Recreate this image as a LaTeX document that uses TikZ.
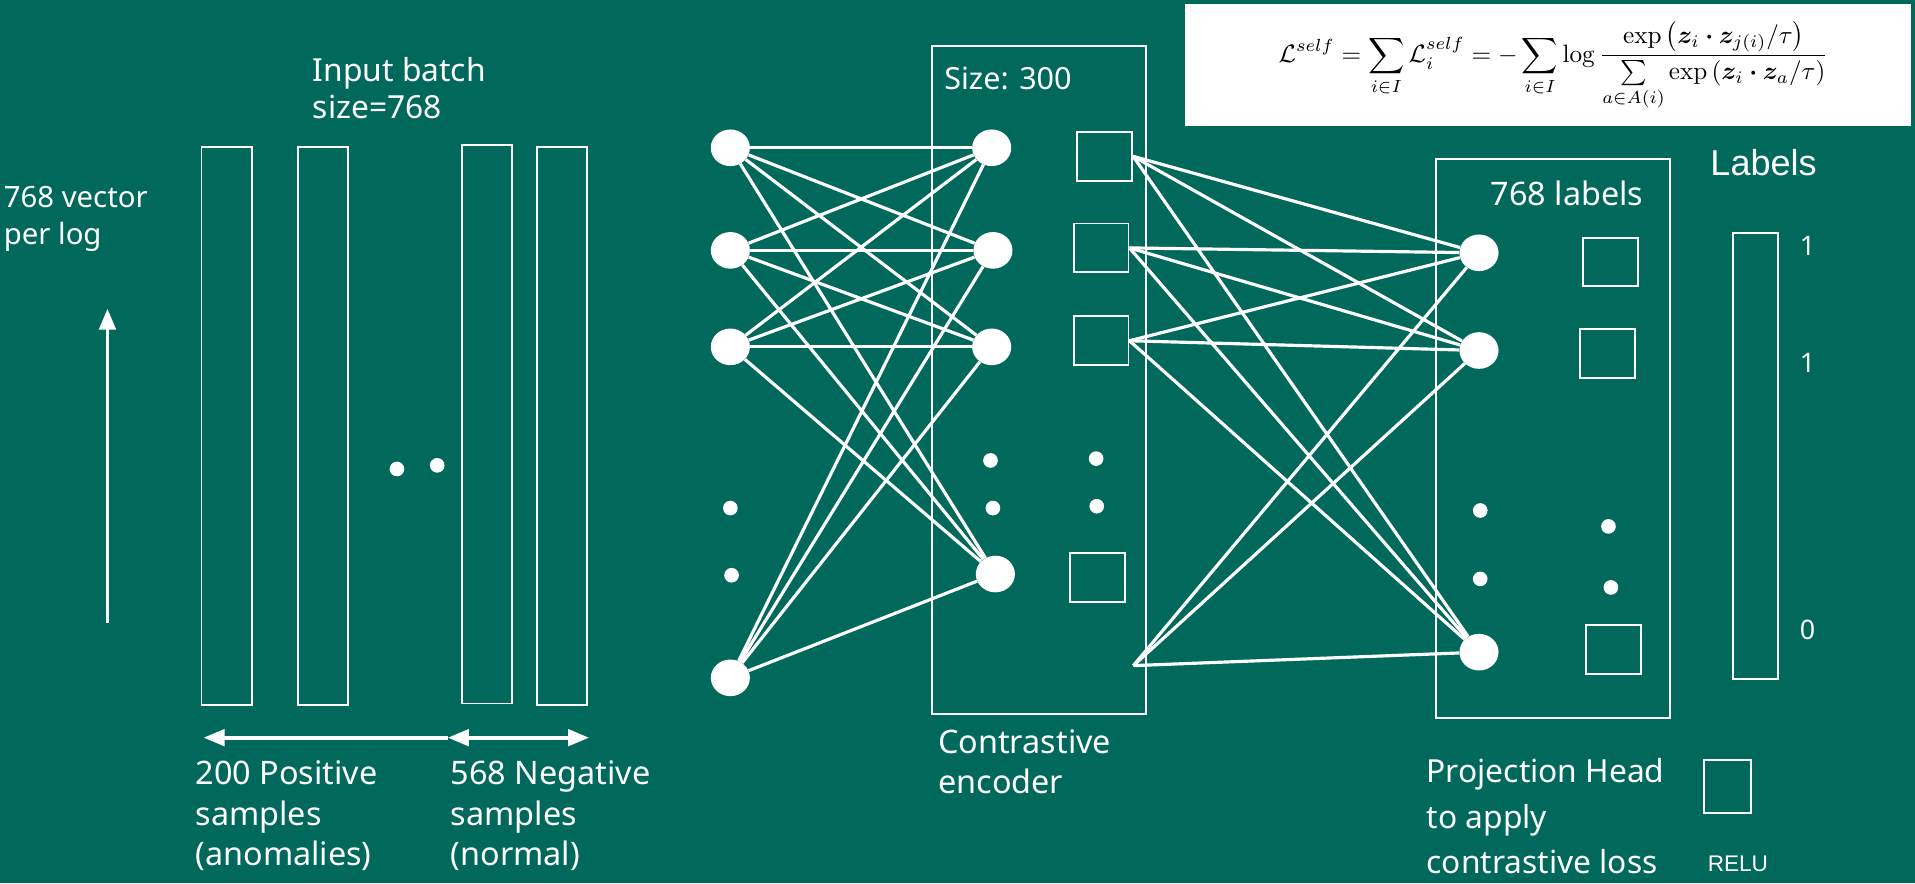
\documentclass[tikz,border=0pt]{standalone}
\usepackage{amsmath}
\usepackage{bm}
\usepackage[no-math]{fontspec}
\setmainfont{Noto Sans}
\newfontfamily\arialfont{Liberation Sans}
\usetikzlibrary{arrows, shapes.geometric, positioning}
\tikzset{>=triangle 45}
\definecolor{slidegreen}{RGB}{1,105,91}
\tikzset{
  unit/.style={ellipse, fill=white, minimum width=32, minimum height=30, inner sep=0},
  cell/.style={draw=white, line width=1.6pt, minimum width=45, minimum height=40, inner sep=0},
  column/.style={draw=white, line width=1.6pt, minimum width=41, minimum height=457, inner sep=0},
  link/.style={line width=2.6pt},
  lbl/.style={font=\fontsize{26.5}{33}\selectfont, align=left, anchor=north west, inner sep=0},
}

\begin{document}
\begin{tikzpicture}[x=1pt, y=-1pt, white]
		\fill[slidegreen] (0,0) rectangle (1568,723);
		\useasboundingbox (0,0) rectangle (1568,723);

		% loss formula
		\node (lossbox) [fill=white, minimum width=595, minimum height=100, inner sep=0] at (1267.5,53) {};
		\node (loss) [text=black, inner sep=0] at (1272,54) {\resizebox{450pt}{!}{$\displaystyle
			\mathcal{L}^{self}=\sum_{i\in I}\mathcal{L}_i^{self}=-\sum_{i\in I}\log
			\frac{\exp\left(\bm{z}_i\bm{\cdot}\bm{z}_{j(i)}/\tau\right)}{\sum\limits_{a\in A(i)}\exp\left(\bm{z}_i\bm{\cdot}\bm{z}_a/\tau\right)}$}};

		% input batch
		\node[lbl, font=\fontsize{24}{31}\selectfont] (vec) at (3,152) {768 vector\\per log};
		\coordinate (vb) at (88,510); \coordinate (vt) at (88,253);
		\draw [->, line width=3pt] (vb) -- (vt);
		\node[lbl, font=\fontsize{26}{30}\selectfont] (batch) at (256,47) {Input batch\\size=768};
		\node[column] (col1) at (185.5,348.5) {};
		\node[column] (col2) at (264.5,348.5) {};
		\node[column] (col3) at (399,347.5) {};
		\node[column] (col4) at (460.5,348.5) {};
		\fill (325,384) circle (6); \fill (358,381) circle (6);
		\coordinate (pl) at (167,604); \coordinate (pm) at (367,604); \coordinate (pr) at (482,604);
		\draw [<-, line width=3pt] (pl) -- (pm);
		\draw [<->, line width=3pt] (pm) -- (pr);
		\node[lbl] (pos) at (160,623) {200 Positive\\samples\\(anomalies)};
		\node[lbl] (neg) at (369,623) {568 Negative\\samples\\(normal)};

		% contrastive encoder
		\node[unit] (a1) at (598,121) {};
		\node[unit] (a2) at (598,205) {};
		\node[unit] (a3) at (598,284) {};
		\node[unit] (a4) at (598,555) {};
		\fill (598,416) circle (6); \fill (599,471) circle (6);
		\node[draw, line width=1.6pt, minimum width=175, minimum height=547] (enc) at (850.5,311.5) {};
		\node[lbl, font=\fontsize{25}{30}\selectfont] (size) at (773,55) {Size: 300};
		\node[lbl] (enctxt) at (768,597) {Contrastive\\encoder};
		\node[unit] (b1) at (812,121) {};
		\node[unit] (b2) at (813,205) {};
		\node[unit] (b3) at (812,284) {};
		\node[unit] (b4) at (815,470) {};
		\fill (811,377) circle (6); \fill (813,416) circle (6);
		\node[cell] (e1) at (904.5,128) {};
		\node[cell] (e2) at (901.5,203) {};
		\node[cell] (e3) at (901.5,279) {};
		\node[cell] (e4) at (898.5,473) {};
		\fill (897.5,375.5) circle (6); \fill (898,414.5) circle (6);
		\coordinate (e5) at (928,545);
		\foreach \i in {1,2,3,4}
			\foreach \j in {1,2,3,4}
				\draw [link] (a\i) -- (b\j);

		% projection head
		\node[draw, line width=1.6pt, minimum width=191, minimum height=458] (proj) at (1271.5,359) {};
		\node[font=\fontsize{26.5}{30}\selectfont, inner sep=0] (projtxt) at (1283,158) {768 labels};
		\node[unit] (c1) at (1211,207) {};
		\node[unit] (c2) at (1211,287) {};
		\node[unit] (c3) at (1211,534) {};
		\fill (1212,418) circle (6); \fill (1212,474) circle (6);
		\node[cell] (s1) at (1319,214.5) {};
		\node[cell] (s2) at (1316,289.5) {};
		\node[cell] (s3) at (1321,532) {};
		\fill (1317,431) circle (6); \fill (1319,481) circle (6);
		\foreach \s in {e1.east,e2.east,e3.east,e5}
			\foreach \t in {c1,c2,c3}
				\draw [link] (\s) -- (\t);
		\node[lbl, font=\fontsize{26}{37}\selectfont] (headtxt) at (1168,621) {Projection Head\\to apply\\contrastive loss};

		% labels
		\node[font=\arialfont\fontsize{29.5}{30}\selectfont, inner sep=0] (labtxt) at (1444,133) {Labels};
		\node[column, minimum width=37, minimum height=365] (lab) at (1437.5,373.5) {};
		\node[font=\fontsize{22}{24}\selectfont] (one1) at (1480,201) {1};
		\node[font=\fontsize{22}{24}\selectfont] (one2) at (1480,297) {1};
		\node[font=\fontsize{22}{24}\selectfont] (zero) at (1480,516) {0};
		\node[cell, minimum width=39, minimum height=44] (relu) at (1414.5,644) {};
		\node[font=\arialfont\fontsize{18.5}{20}\selectfont, inner sep=0] (relutxt) at (1423,707) {RELU};
\end{tikzpicture}
\end{document}
